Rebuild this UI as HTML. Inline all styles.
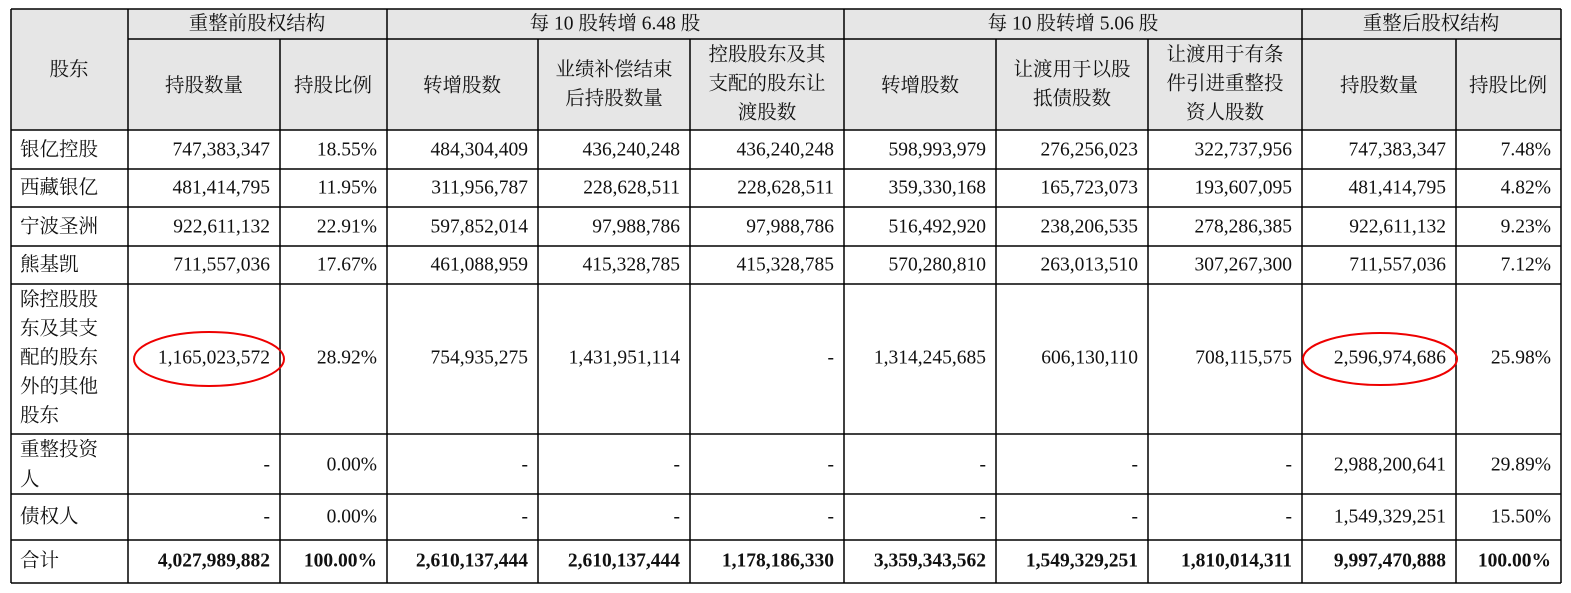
<!DOCTYPE html>
<html><head><meta charset="utf-8"><style>
html,body{margin:0;padding:0;background:#fff;width:1571px;height:593px;overflow:hidden}
svg text{font-family:"Liberation Serif","Noto Serif CJK SC","Noto Sans CJK SC",serif;fill:#111}
.c{font-family:"Liberation Serif","Noto Sans CJK SC",sans-serif;font-size:19.5px}
.n{font-size:19.5px}
.b{font-weight:bold}
</style></head><body>
<svg width="1571" height="593" xmlns="http://www.w3.org/2000/svg">
<rect x="11" y="9" width="1550" height="121" fill="#e6e6e6"/>
<g stroke="#000" stroke-width="1.5">
<line x1="11" y1="9" x2="1561" y2="9"/>
<line x1="128" y1="39" x2="1561" y2="39"/>
<line x1="11" y1="130" x2="1561" y2="130"/>
<line x1="11" y1="169" x2="1561" y2="169"/>
<line x1="11" y1="207" x2="1561" y2="207"/>
<line x1="11" y1="246" x2="1561" y2="246"/>
<line x1="11" y1="284" x2="1561" y2="284"/>
<line x1="11" y1="434" x2="1561" y2="434"/>
<line x1="11" y1="494" x2="1561" y2="494"/>
<line x1="11" y1="540" x2="1561" y2="540"/>
<line x1="11" y1="583" x2="1561" y2="583"/>
<line x1="11" y1="9" x2="11" y2="583"/>
<line x1="128" y1="9" x2="128" y2="583"/>
<line x1="280" y1="39" x2="280" y2="583"/>
<line x1="387" y1="9" x2="387" y2="583"/>
<line x1="538" y1="39" x2="538" y2="583"/>
<line x1="690" y1="39" x2="690" y2="583"/>
<line x1="844" y1="9" x2="844" y2="583"/>
<line x1="996" y1="39" x2="996" y2="583"/>
<line x1="1148" y1="39" x2="1148" y2="583"/>
<line x1="1302" y1="9" x2="1302" y2="583"/>
<line x1="1456" y1="39" x2="1456" y2="583"/>
<line x1="1561" y1="9" x2="1561" y2="583"/>
</g>
<g class="c" text-anchor="middle" dominant-baseline="central">
<text x="69" y="70">股东</text>
<text x="257" y="24">重整前股权结构</text>
<text x="615" y="24">每 10 股转增 6.48 股</text>
<text x="1073" y="24">每 10 股转增 5.06 股</text>
<text x="1431" y="24">重整后股权结构</text>
<text x="204" y="86">持股数量</text>
<text x="333" y="86">持股比例</text>
<text x="462" y="86">转增股数</text>
<text x="614" y="70">业绩补偿结束</text>
<text x="614" y="99">后持股数量</text>
<text x="767" y="55">控股股东及其</text>
<text x="767" y="84">支配的股东让</text>
<text x="767" y="113">渡股数</text>
<text x="920" y="86">转增股数</text>
<text x="1072" y="70">让渡用于以股</text>
<text x="1072" y="99">抵债股数</text>
<text x="1225" y="55">让渡用于有条</text>
<text x="1225" y="84">件引进重整投</text>
<text x="1225" y="113">资人股数</text>
<text x="1379" y="86">持股数量</text>
<text x="1508" y="86">持股比例</text>
</g>
<g class="c" dominant-baseline="central">
<text x="20" y="150">银亿控股</text>
<text x="20" y="188">西藏银亿</text>
<text x="20" y="227">宁波圣洲</text>
<text x="20" y="265">熊基凯</text>
<text x="20" y="300">除控股股</text>
<text x="20" y="329">东及其支</text>
<text x="20" y="358">配的股东</text>
<text x="20" y="387">外的其他</text>
<text x="20" y="416">股东</text>
<text x="20" y="450">重整投资</text>
<text x="20" y="480">人</text>
<text x="20" y="517">债权人</text>
<text x="20" y="561">合计</text>
</g>
<g class="n" text-anchor="end" dominant-baseline="central">
<text x="270" y="150">747,383,347</text><text x="377" y="150">18.55%</text><text x="528" y="150">484,304,409</text><text x="680" y="150">436,240,248</text><text x="834" y="150">436,240,248</text><text x="986" y="150">598,993,979</text><text x="1138" y="150">276,256,023</text><text x="1292" y="150">322,737,956</text><text x="1446" y="150">747,383,347</text><text x="1551" y="150">7.48%</text>
<text x="270" y="188">481,414,795</text><text x="377" y="188">11.95%</text><text x="528" y="188">311,956,787</text><text x="680" y="188">228,628,511</text><text x="834" y="188">228,628,511</text><text x="986" y="188">359,330,168</text><text x="1138" y="188">165,723,073</text><text x="1292" y="188">193,607,095</text><text x="1446" y="188">481,414,795</text><text x="1551" y="188">4.82%</text>
<text x="270" y="227">922,611,132</text><text x="377" y="227">22.91%</text><text x="528" y="227">597,852,014</text><text x="680" y="227">97,988,786</text><text x="834" y="227">97,988,786</text><text x="986" y="227">516,492,920</text><text x="1138" y="227">238,206,535</text><text x="1292" y="227">278,286,385</text><text x="1446" y="227">922,611,132</text><text x="1551" y="227">9.23%</text>
<text x="270" y="265">711,557,036</text><text x="377" y="265">17.67%</text><text x="528" y="265">461,088,959</text><text x="680" y="265">415,328,785</text><text x="834" y="265">415,328,785</text><text x="986" y="265">570,280,810</text><text x="1138" y="265">263,013,510</text><text x="1292" y="265">307,267,300</text><text x="1446" y="265">711,557,036</text><text x="1551" y="265">7.12%</text>
<text x="270" y="358">1,165,023,572</text><text x="377" y="358">28.92%</text><text x="528" y="358">754,935,275</text><text x="680" y="358">1,431,951,114</text><text x="834" y="358">-</text><text x="986" y="358">1,314,245,685</text><text x="1138" y="358">606,130,110</text><text x="1292" y="358">708,115,575</text><text x="1446" y="358">2,596,974,686</text><text x="1551" y="358">25.98%</text>
<text x="270" y="465">-</text><text x="377" y="465">0.00%</text><text x="528" y="465">-</text><text x="680" y="465">-</text><text x="834" y="465">-</text><text x="986" y="465">-</text><text x="1138" y="465">-</text><text x="1292" y="465">-</text><text x="1446" y="465">2,988,200,641</text><text x="1551" y="465">29.89%</text>
<text x="270" y="517">-</text><text x="377" y="517">0.00%</text><text x="528" y="517">-</text><text x="680" y="517">-</text><text x="834" y="517">-</text><text x="986" y="517">-</text><text x="1138" y="517">-</text><text x="1292" y="517">-</text><text x="1446" y="517">1,549,329,251</text><text x="1551" y="517">15.50%</text>
</g>
<g class="n b" text-anchor="end" dominant-baseline="central">
<text x="270" y="561">4,027,989,882</text><text x="377" y="561">100.00%</text><text x="528" y="561">2,610,137,444</text><text x="680" y="561">2,610,137,444</text><text x="834" y="561">1,178,186,330</text><text x="986" y="561">3,359,343,562</text><text x="1138" y="561">1,549,329,251</text><text x="1292" y="561">1,810,014,311</text><text x="1446" y="561">9,997,470,888</text><text x="1551" y="561">100.00%</text>
</g>
<ellipse cx="209" cy="359" rx="75" ry="27" fill="none" stroke="#e00" stroke-width="2"/>
<ellipse cx="1380" cy="359" rx="77" ry="26" fill="none" stroke="#e00" stroke-width="2"/>
</svg>
</body></html>
